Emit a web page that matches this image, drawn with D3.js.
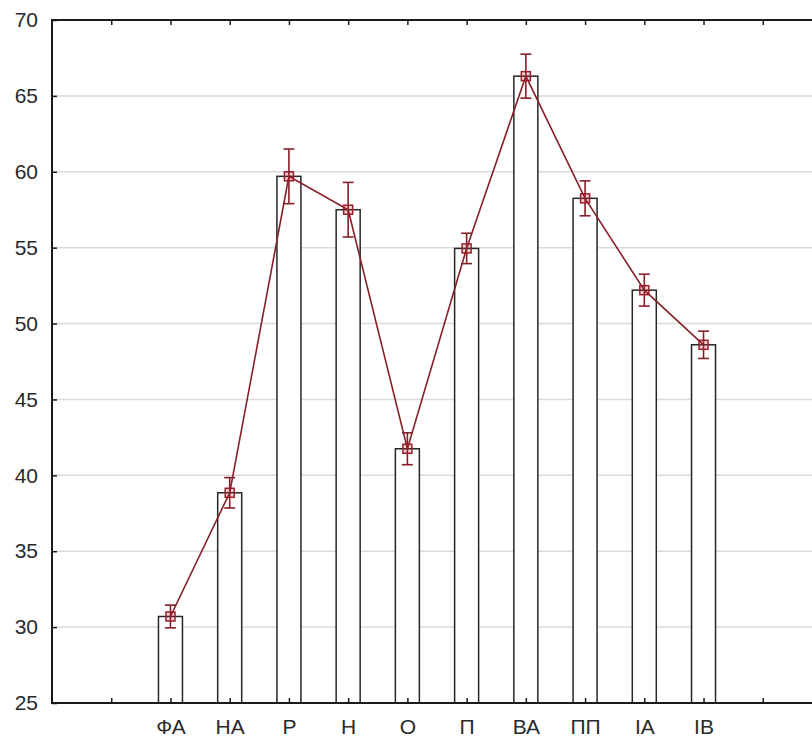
<!DOCTYPE html>
<html>
<head>
<meta charset="utf-8">
<script src="https://cdn.jsdelivr.net/npm/d3@7"></script>
<style>
  html, body { margin: 0; padding: 0; background: #fff; overflow: hidden; }
  svg { display: block; overflow: hidden; }
  text { font-family: "Liberation Sans", Arial, sans-serif; }
</style>
</head>
<body>
<svg id="chart" width="812" height="742"></svg>
<script>
// Scale categories and their means with the half-width of the error bars
const categories = ["ФА", "НА", "Р", "Н", "О", "П", "ВА", "ПП", "ІА", "ІВ"];
const means      = [30.7, 38.85, 59.7, 57.5, 41.75, 54.95, 66.3, 58.25, 52.2, 48.6];
const errors     = [0.75, 1.0, 1.8, 1.8, 1.05, 1.0, 1.45, 1.15, 1.05, 0.9];
const yTicks     = [25, 30, 35, 40, 45, 50, 55, 60, 65, 70];

const W = 812;
const svg = d3.select("#chart");
const plotL = 52, plotR = 822, plotT = 20, plotB = 703;
const visR = Math.min(plotR, W);   // the plot runs past the right edge of the page

// empty slots on both sides of the categories
const slots = ["_l", ...categories, "_r"];
const x = d3.scalePoint().domain(slots).range([plotL, plotR]).padding(1);
const y = d3.scaleLinear().domain([25, 70]).range([plotB, plotT]);

const barW = 24;
const lineColor = "#861f28";
const frameColor = "#1a1a1a";
const textColor = "#2a2a2a";

// horizontal grid
svg.append("g")
  .selectAll("line")
  .data(yTicks.filter(t => t > 25 && t < 70))
  .join("line")
  .attr("x1", plotL).attr("x2", visR)
  .attr("y1", d => y(d)).attr("y2", d => y(d))
  .attr("stroke", "#dadada").attr("stroke-width", 1.5);

// bars
svg.append("g")
  .selectAll("rect")
  .data(categories)
  .join("rect")
  .attr("x", d => x(d) - barW / 2)
  .attr("y", (d, i) => y(means[i]))
  .attr("width", barW)
  .attr("height", (d, i) => y(25) - y(means[i]))
  .attr("fill", "#fff")
  .attr("stroke", "#262626")
  .attr("stroke-width", 1.5);

// frame: left, top and bottom edges
const frame = svg.append("g").attr("stroke", frameColor).attr("stroke-width", 2);
frame.append("line").attr("x1", plotL).attr("x2", plotL).attr("y1", plotT - 1).attr("y2", plotB + 1);
frame.append("line").attr("x1", plotL).attr("x2", visR).attr("y1", plotT).attr("y2", plotT);
frame.append("line").attr("x1", plotL).attr("x2", visR).attr("y1", plotB).attr("y2", plotB);

// left axis (ticks inward)
const yAxis = d3.axisLeft(y).tickValues(yTicks).tickSize(-5).tickPadding(14).tickFormat(d3.format("d"));
const gy = svg.append("g").attr("transform", `translate(${plotL},0)`).call(yAxis);
gy.select(".domain").remove();
gy.selectAll(".tick line").attr("stroke", frameColor).attr("stroke-width", 1.5);
gy.selectAll(".tick text")
  .attr("font-size", 21).attr("fill", textColor)
  .attr("font-family", "'Liberation Sans', Arial, sans-serif");

// bottom axis (ticks inward)
const xAxis = d3.axisBottom(x).tickSize(-5).tickPadding(16)
  .tickFormat(d => (d === "_l" || d === "_r") ? "" : d);
const gx = svg.append("g").attr("transform", `translate(0,${plotB})`).call(xAxis);
gx.select(".domain").remove();
gx.selectAll(".tick line").attr("stroke", frameColor).attr("stroke-width", 1.5);
gx.selectAll(".tick text")
  .attr("font-size", 21).attr("fill", textColor)
  .attr("font-family", "'Liberation Sans', Arial, sans-serif");

// top axis ticks (inward, no labels)
const gt = svg.append("g").attr("transform", `translate(0,${plotT})`)
  .call(d3.axisTop(x).tickSize(-5).tickFormat(""));
gt.select(".domain").remove();
gt.selectAll(".tick line").attr("stroke", frameColor).attr("stroke-width", 1.5);

// line through the means
const pts = categories.map((c, i) => [x(c), y(means[i])]);
svg.append("path")
  .attr("d", d3.line()(pts))
  .attr("fill", "none")
  .attr("stroke", lineColor)
  .attr("stroke-width", 1.6);

// error bars
const capW = 11;
const eb = svg.append("g").attr("stroke", lineColor).attr("stroke-width", 1.6);
categories.forEach((c, i) => {
  const cx = x(c);
  const y1 = y(means[i] + errors[i]);
  const y2 = y(means[i] - errors[i]);
  eb.append("line").attr("x1", cx).attr("x2", cx).attr("y1", y1).attr("y2", y2);
  eb.append("line").attr("x1", cx - capW / 2).attr("x2", cx + capW / 2).attr("y1", y1).attr("y2", y1);
  eb.append("line").attr("x1", cx - capW / 2).attr("x2", cx + capW / 2).attr("y1", y2).attr("y2", y2);
});

// square markers at the means
const m = 9;
svg.append("g")
  .selectAll("rect")
  .data(categories)
  .join("rect")
  .attr("x", d => x(d) - m / 2)
  .attr("y", (d, i) => y(means[i]) - m / 2)
  .attr("width", m).attr("height", m)
  .attr("fill", "rgba(200,40,50,0.2)")
  .attr("stroke", "#9c1d2a")
  .attr("stroke-width", 1.5);
</script>
</body>
</html>
